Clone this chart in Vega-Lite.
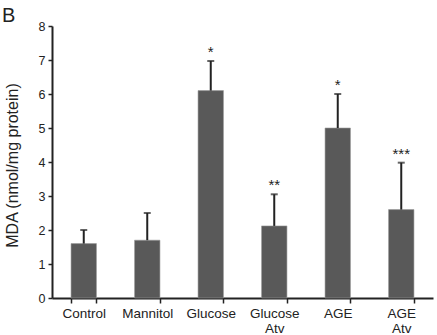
{
  "$schema": "https://vega.github.io/schema/vega-lite/v6.json",
  "autosize": {"type": "none"},
  "width": 381,
  "height": 272,
  "padding": {"left": 52, "top": 26, "right": 4, "bottom": 37},
  "background": "white",
  "title": {"text": "B", "anchor": "start", "frame": "group", "orient": "top", "offset": 0, "baseline": "top", "dx": -50, "dy": 6, "fontSize": 20, "fontWeight": "normal", "font": "Liberation Sans", "color": "#222"},
  "config": {
    "view": {"stroke": null}, "font": "Liberation Sans",
    "axisY": {"tickCount": 8, "labelOverlap": false, "grid": false,
      "titleFontSize": 16, "titleFontWeight": "normal", "titleColor": "#222", "titleX": -40, "titleY": 139, "titleAngle": -90, "titleBaseline": "middle", "titleAlign": "center",
      "labelFontSize": 12.5, "labelColor": "#222", "labelPadding": 3, "tickSize": 4, "tickWidth": 1.5, "tickColor": "#222",
      "domainColor": "#222", "domainWidth": 2}
  },
  "data": {"values": [
    {"group": "Control", "value": 1.6, "err": 2.0, "sig": ""},
    {"group": "Mannitol", "value": 1.7, "err": 2.5, "sig": ""},
    {"group": "Glucose", "value": 6.1, "err": 6.97, "sig": "*"},
    {"group": "Glucose Atv", "value": 2.12, "err": 3.05, "sig": "**"},
    {"group": "AGE", "value": 5.0, "err": 6.0, "sig": "*"},
    {"group": "AGE Atv", "value": 2.6, "err": 3.98, "sig": "***"}
  ]},
  "encoding": {
    "x": {"field": "group", "type": "nominal", "sort": null,
      "scale": {"paddingInner": 0.6, "paddingOuter": 0.3},
      "axis": {"title": null, "labelAngle": 0, "tickBand": "extent", "labelExpr": "split(datum.label, ' ')",
        "labelFontSize": 13.5, "labelColor": "#222", "labelPadding": 3, "tickSize": 5, "tickWidth": 1.5, "tickColor": "#222",
        "domainColor": "#222", "domainWidth": 2, "labelLineHeight": 15}}
  },
  "layer": [
    {"mark": {"type": "bar", "color": "#595959", "stroke": "#9a9a9a", "strokeWidth": 0.6},
     "encoding": {"y": {"field": "value", "type": "quantitative", "title": "MDA (nmol/mg protein)",
       "scale": {"domain": [0, 8], "nice": false}}}},
    {"mark": {"type": "rule", "color": "#222", "strokeWidth": 2},
     "encoding": {"y": {"field": "value", "type": "quantitative", "title": "MDA (nmol/mg protein)"}, "y2": {"field": "err"}}},
    {"mark": {"type": "tick", "color": "#222", "size": 7, "thickness": 2},
     "encoding": {"y": {"field": "err", "type": "quantitative", "title": "MDA (nmol/mg protein)"}}},
    {"mark": {"type": "text", "fontSize": 15, "color": "#222", "baseline": "alphabetic", "dy": -4},
     "encoding": {"y": {"field": "err", "type": "quantitative", "title": "MDA (nmol/mg protein)"}, "text": {"field": "sig"}}}
  ]
}
